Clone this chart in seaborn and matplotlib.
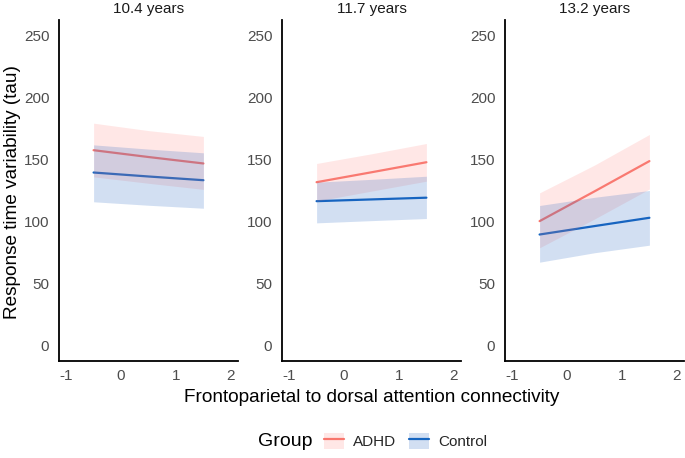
import numpy as np
import pandas as pd
import seaborn as sns
import matplotlib
matplotlib.use("Agg")
import matplotlib.pyplot as plt
from matplotlib.patches import Patch
from matplotlib.lines import Line2D

# ---- data ----
panels = ["10.4 years", "11.7 years", "13.2 years"]
groups = ["ADHD", "Control"]
x_vals = [-0.5, 0.5, 1.5]

adhd_fit = [[157.5, 152.0, 146.8], [131.7, 139.7, 147.8], [100.3, 124.3, 148.7]]
adhd_upper = [[179.3, 173.3, 168.6], [146.8, 154.6, 162.9], [123.1, 145.5, 170.2]]
adhd_lower = [[136.0, 130.8, 125.9], [116.4, 124.5, 132.5], [78.8, 102.0, 126.2]]
ctrl_fit = [[139.5, 136.3, 133.3], [116.4, 117.8, 119.2], [89.5, 96.3, 103.0]]
ctrl_upper = [[161.8, 158.4, 155.4], [131.7, 134.0, 136.5], [112.9, 119.5, 125.0]]
ctrl_lower = [[115.9, 113.1, 110.7], [98.9, 100.7, 102.4], [67.2, 74.8, 80.9]]

y_ticks = [0, 50, 100, 150, 200, 250]
x_ticks = [-1, 0, 1, 2]

colors = {"ADHD": "#F8766D", "Control": "#1565C0"}
fills = {"ADHD": "#FF8A85", "Control": "#1F62C2"}

rows = []
for p, name in enumerate(panels):
    for g, fit, up, lo in [("ADHD", adhd_fit, adhd_upper, adhd_lower),
                           ("Control", ctrl_fit, ctrl_upper, ctrl_lower)]:
        for i, xv in enumerate(x_vals):
            rows.append(dict(panel=name, group=g, x=xv, fit=fit[p][i],
                             upper=up[p][i], lower=lo[p][i]))
df = pd.DataFrame(rows)

sns.set_theme(style="white")
plt.rcParams["font.family"] = ["Liberation Sans", "DejaVu Sans"]

W, H = 685, 458
fig = plt.figure(figsize=(W / 100, H / 100), dpi=100)

lefts = [59, 282, 505]
ax_w = 179
top_px, bot_px = 20, 361
for p, name in enumerate(panels):
    ax = fig.add_axes([lefts[p] / W, 1 - bot_px / H, ax_w / W, (bot_px - top_px) / H])
    sub = df[df.panel == name]
    sns.lineplot(data=sub, x="x", y="fit", hue="group", hue_order=groups,
                 palette=colors, linewidth=1.6, legend=False, ax=ax, zorder=2)
    for g in groups:
        s = sub[sub.group == g]
        ax.fill_between(s.x, s.lower, s.upper, color=fills[g], alpha=0.2,
                        linewidth=0, zorder=3)
    ax.set_xlim(-1.13, 2.13)
    ax.set_ylim(-12.5, 262.5)
    ax.set_xticks(x_ticks)
    ax.set_yticks(y_ticks)
    ax.set_xticklabels([str(t) for t in x_ticks])
    ax.set_yticklabels([str(t) for t in y_ticks])
    ax.set_xlabel("")
    ax.set_ylabel("")
    ax.tick_params(axis="both", length=0, labelsize=11, labelcolor="#4D4D4D")
    ax.tick_params(axis="x", pad=6)
    ax.tick_params(axis="y", pad=7)
    for side in ["top", "right"]:
        ax.spines[side].set_visible(False)
    for side in ["left", "bottom"]:
        ax.spines[side].set_color("black")
        ax.spines[side].set_linewidth(1.3)
    ax.grid(False)
    ax.set_title(name, fontsize=11, color="#1A1A1A", pad=5)

fig.text(372 / W, 1 - 397 / H, "Frontoparietal to dorsal attention connectivity",
         ha="center", va="center", fontsize=13.7, color="black")
fig.text(13 / W, 1 - 192 / H, "Response time variability (tau)", rotation=90,
         ha="center", va="center", fontsize=13.7, color="black")

fig.text(258 / W, 1 - 441 / H, "Group", ha="left", va="center",
         fontsize=14, color="black")
handles = [(Patch(facecolor=fills[g], alpha=0.2, edgecolor="none"),
            Line2D([], [], color=colors[g], linewidth=1.6)) for g in groups]
leg = fig.legend(handles, groups, loc="center left",
                 bbox_to_anchor=(316 / W, 1 - 441 / H),
                 ncol=2, frameon=False, fontsize=11, borderpad=0,
                 handlelength=1.3, handleheight=1.3,
                 columnspacing=0.8, handletextpad=0.65)

fig.savefig("out.png", dpi=100)
